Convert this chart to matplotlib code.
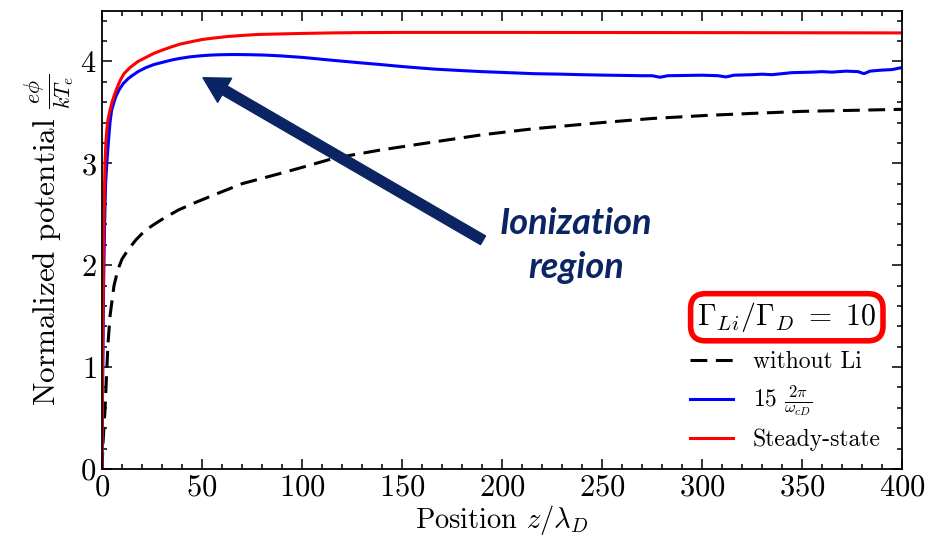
import matplotlib
matplotlib.use("Agg")
import matplotlib.pyplot as plt
from matplotlib.ticker import MultipleLocator

plt.rcParams['font.family'] = 'serif'
plt.rcParams['font.serif'] = ['cmr10']
plt.rcParams['mathtext.fontset'] = 'cm'
plt.rcParams['axes.formatter.use_mathtext'] = True

# ---- data ----
z_red = [0, 0.3, 0.7, 1.0, 1.5, 2, 2.5, 3, 4, 5, 6, 7.5, 9, 11, 14, 18, 22, 26, 30, 35, 39, 45, 50, 56, 63, 70, 78,
         89, 100, 115, 130, 150, 175, 200, 300, 400]
phi_red = [0, 1.0, 2.0, 2.5, 3.0, 3.22, 3.35, 3.43, 3.52, 3.6, 3.66, 3.74, 3.81, 3.88, 3.94, 4.0, 4.04, 4.08, 4.11,
           4.145, 4.17, 4.195, 4.215, 4.23, 4.245, 4.255, 4.265, 4.27, 4.275, 4.28, 4.283, 4.285, 4.285, 4.285, 4.283, 4.28]

z_blue = [0, 0.3, 0.8, 1.3, 1.8, 2.4, 3, 4, 4.8, 6, 7, 8.5, 10.5, 13, 15, 18, 22, 26, 30, 35, 39, 44, 49, 54, 59, 66,
          74, 82, 89, 100, 116, 130, 139, 150, 166, 180, 190, 203, 216, 230, 240, 250, 260, 270,
          275, 279, 283, 300, 308, 312, 316, 325, 330, 335, 345, 355, 360, 365, 372, 378, 381, 384, 390, 395, 400]
phi_blue = [0, 0.8, 1.8, 2.4, 2.8, 3.0, 3.16, 3.4, 3.52, 3.6, 3.66, 3.72, 3.78, 3.83, 3.86, 3.9, 3.94, 3.97, 3.99,
            4.015, 4.03, 4.045, 4.055, 4.062, 4.066, 4.068, 4.066, 4.062, 4.055, 4.04, 4.01, 3.985, 3.97, 3.95,
            3.925, 3.91, 3.9, 3.89, 3.88, 3.875, 3.87, 3.866, 3.863, 3.86,
            3.86, 3.845, 3.86, 3.865, 3.86, 3.848, 3.865, 3.87, 3.875, 3.87, 3.89, 3.895, 3.9, 3.895, 3.905, 3.9,
            3.88, 3.905, 3.915, 3.92, 3.94]

z_noli = [0, 0.5, 1, 1.5, 2, 3, 4, 4.8, 6, 8, 10, 13, 17, 21.5, 26, 30, 38, 46, 56, 70, 89, 100, 116, 139, 166, 190,
          216, 250, 275, 302, 325, 350, 375, 400]
phi_noli = [0, 0.25, 0.42, 0.58, 0.8, 1.23, 1.5, 1.62, 1.8, 1.96, 2.06, 2.15, 2.25, 2.34, 2.4, 2.45, 2.54, 2.61,
            2.69, 2.8, 2.9, 2.96, 3.05, 3.13, 3.21, 3.28, 3.34, 3.4, 3.44, 3.47, 3.49, 3.51, 3.52, 3.53]

labels = [r'without Li', r'15 $\frac{2\pi}{\omega_{cD}}$', 'Steady-state']
title_text = r'$\Gamma_{Li}/\Gamma_D\ =\ 10$'
annot_text = 'Ionization\nregion'

navy = '#0b2463'

fig = plt.figure(figsize=(9.37, 5.46), dpi=100)
ax = fig.add_axes([102/937, 1-469/546, 800/937, (469-10.5)/546])

l1, = ax.plot(z_noli, phi_noli, color='black', lw=2.2, ls=(0, (5.5, 2.8)), label=labels[0])
l2, = ax.plot(z_blue, phi_blue, color='#0000ff', lw=2.2, label=labels[1])
l3, = ax.plot(z_red, phi_red, color='#ff0000', lw=2.2, label=labels[2])

ax.set_xlim(0, 400)
ax.set_ylim(0, 4.5)
ax.xaxis.set_major_locator(MultipleLocator(50))
ax.xaxis.set_minor_locator(MultipleLocator(10))
ax.yaxis.set_major_locator(MultipleLocator(1))
ax.yaxis.set_minor_locator(MultipleLocator(0.2))
ax.tick_params(which='both', direction='in', top=True, right=True, labelsize=22, width=1.1)
ax.tick_params(which='major', length=7, pad=4)
ax.tick_params(which='minor', length=3.5)
for s in ax.spines.values():
    s.set_linewidth(1.3)

ax.set_xlabel(r'Position $z/\lambda_D$', fontsize=20.5, labelpad=1)
ax.set_ylabel(r'Normalized potential $\frac{e\phi}{kT_e}$', fontsize=22.5, labelpad=2)

leg = ax.legend(handles=[l1, l2, l3], loc='lower right', bbox_to_anchor=(1.0, -0.008),
                frameon=False, fontsize=17, handlelength=1.8, handletextpad=0.85, labelspacing=0.45)

ax.text(0.856, 0.331, title_text, transform=ax.transAxes, ha='center', va='center', fontsize=21.5,
        bbox=dict(boxstyle='round,pad=0.22,rounding_size=0.5', fc='white', ec='#ff0000', lw=4))

ax.annotate('', xy=(50.5, 3.84), xytext=(190.5, 2.245),
            arrowprops=dict(arrowstyle='simple,head_length=0.9,head_width=1.0,tail_width=0.36',
                            mutation_scale=20, color=navy, shrinkA=0, shrinkB=0))

ax.text(237, 2.19, annot_text, ha='center', va='center', fontsize=26, color=navy,
        family='Lato', weight='bold', style='italic', linespacing=1.4)

fig.savefig('out.png', dpi=100)
